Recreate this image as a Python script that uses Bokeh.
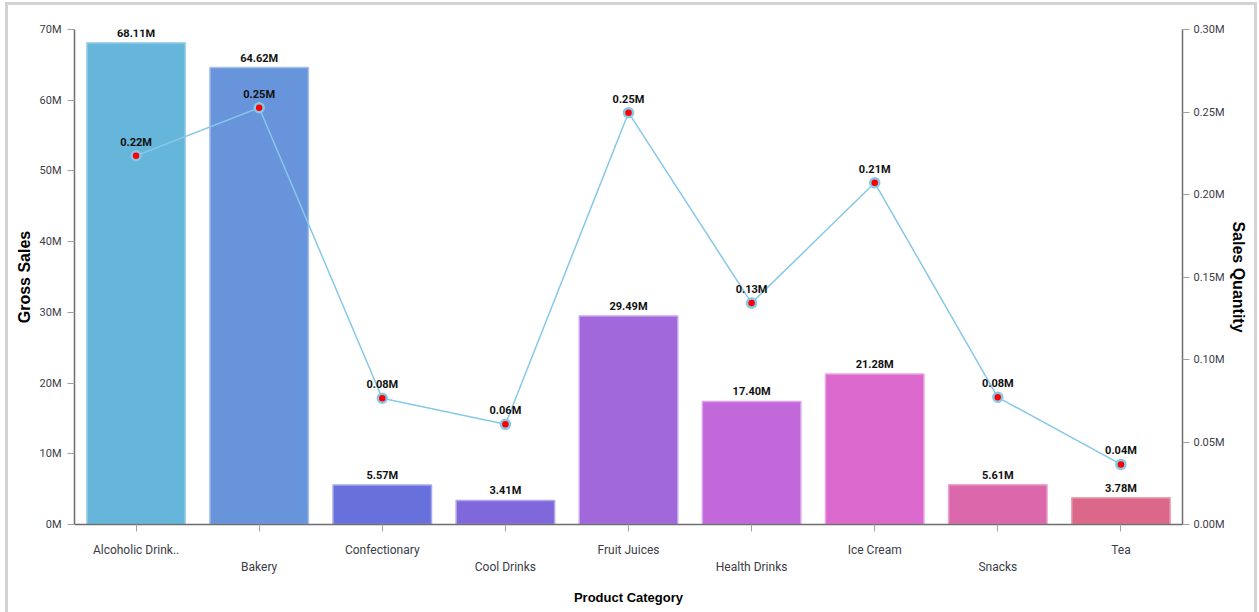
from bokeh.plotting import figure
from bokeh.models import (ColumnDataSource, Range1d, LinearAxis, CategoricalAxis,
                          FixedTicker, PrintfTickFormatter, CustomJSTickFormatter)
from bokeh.layouts import column
from bokeh.core.properties import value
from bokeh.embed import file_html
from bokeh.resources import INLINE

# Sales by product category (values in millions)
categories = ["Alcoholic Drink..", "Bakery", "Confectionary", "Cool Drinks",
              "Fruit Juices", "Health Drinks", "Ice Cream", "Snacks", "Tea"]
gross_sales = [68.11, 64.62, 5.57, 3.41, 29.49, 17.40, 21.28, 5.61, 3.78]
sales_quantity = [0.2235, 0.2526, 0.0765, 0.0607, 0.2496, 0.1342, 0.2071, 0.0771, 0.0364]
gross_ticks = [0, 10, 20, 30, 40, 50, 60, 70]
quantity_ticks = [0.0, 0.05, 0.10, 0.15, 0.20, 0.25, 0.30]

bar_colors = ["#66b5db", "#6894db", "#6870db", "#8068db", "#a168db",
              "#c368db", "#db68cc", "#db68ab", "#db6888"]
bar_edges = ["#a3d3ea", "#a4bfea", "#a4a9ea", "#b3a4ea", "#c7a4ea",
             "#dba4ea", "#eaa4e0", "#eaa4cd", "#eaa4b8"]

LABEL_FONT = "Roboto"
TICK_FONT = "Roboto"
TITLE_FONT = "Liberation Sans"

bars = ColumnDataSource(dict(
    cat=categories, gross=gross_sales, fill=bar_colors, edge=bar_edges,
    label=[f"{v:.2f}M" for v in gross_sales],
))
points = ColumnDataSource(dict(
    cat=categories, qty=sales_quantity,
    label=[f"{v:.2f}M" for v in sales_quantity],
))

p = figure(x_range=categories, y_range=Range1d(0, 70),
           width=1246, height=607, output_backend="svg", toolbar_location=None,
           min_border_left=66, min_border_right=72, min_border_top=24,
           min_border_bottom=88, background_fill_color="white",
           border_fill_color="white")
p.extra_y_ranges = {"qty": Range1d(0, 0.30)}
p.outline_line_color = None
p.xgrid.grid_line_color = None
p.ygrid.grid_line_color = None

p.vbar(x="cat", top="gross", width=0.8, source=bars,
       fill_color="fill", line_color="edge", line_width=1.5)

p.line(x="cat", y="qty", source=points, y_range_name="qty",
       line_color="#87c8e8", line_width=1.5)
p.scatter(x="cat", y="qty", source=points, y_range_name="qty", size=9,
          fill_color="#ff0000", line_color="#87c8e8", line_width=2.5)

p.text(x="cat", y="gross", text="label", source=bars, y_offset=-3,
       text_align="center", text_baseline="bottom",
       text_font=value(LABEL_FONT), text_font_style="bold",
       text_font_size="11px", text_color="#111111")
p.text(x="cat", y="qty", text="label", source=points, y_range_name="qty",
       y_offset=-7, text_align="center", text_baseline="bottom",
       text_font=value(LABEL_FONT), text_font_style="bold",
       text_font_size="11px", text_color="#111111")

# left axis: gross sales
left = p.yaxis[0]
left.ticker = FixedTicker(ticks=gross_ticks)
left.formatter = PrintfTickFormatter(format="%dM")
left.axis_label = "Gross Sales"

# right axis: sales quantity
right = LinearAxis(y_range_name="qty", axis_label="Sales Quantity",
                   ticker=FixedTicker(ticks=quantity_ticks),
                   formatter=PrintfTickFormatter(format="%.2fM"))
p.add_layout(right, "right")

# bottom axes: category names staggered over two rows
bottom = p.xaxis[0]
bottom.formatter = CustomJSTickFormatter(code="return index % 2 == 0 ? tick : ' '")
second_row = CategoricalAxis(axis_label="Product Category")
second_row.formatter = CustomJSTickFormatter(code="return index % 2 == 1 ? tick : ' '")
p.add_layout(second_row, "below")

for ax in (left, right, bottom, second_row):
    ax.axis_line_color = "#6e6e6e"
    ax.axis_line_width = 1.5
    ax.major_tick_line_color = "#a0a0a0"
    ax.major_tick_in = 0
    ax.major_tick_out = 7
    ax.minor_tick_line_color = None
    ax.major_label_text_font = TICK_FONT
    ax.major_label_text_font_size = "11px"
    ax.major_label_text_color = "#3c3c46"
    ax.axis_label_text_font = TITLE_FONT
    ax.axis_label_text_font_style = "bold"
    ax.axis_label_text_font_size = "16px"
    ax.axis_label_text_color = "#000000"

left.major_label_standoff = 6
left.axis_label_standoff = 4
right.major_label_standoff = 4
right.axis_label_standoff = 2

for ax in (bottom, second_row):
    ax.major_label_text_font_size = "12px"
bottom.major_label_standoff = 11
second_row.axis_line_color = None
second_row.major_tick_line_color = None
second_row.major_tick_out = 0
second_row.major_label_standoff = 0
second_row.axis_label_standoff = 13
second_row.axis_label_text_font_size = "13px"

page = column(p, styles={
    "margin-left": "5px", "margin-top": "2px",
    "border-left": "3px solid #d3d3d3", "border-top": "3px solid #d3d3d3",
    "border-right": "3px solid #d3d3d3",
})

open("out.html", "w").write(file_html(page, INLINE))
